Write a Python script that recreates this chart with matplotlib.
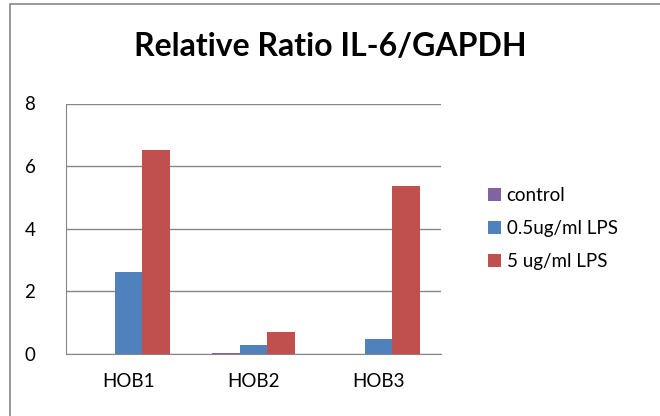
import matplotlib.pyplot as plt
import numpy as np
from matplotlib.patches import Rectangle

categories = ['HOB1', 'HOB2', 'HOB3']
series = ['control', '0.5ug/ml LPS', '5 ug/ml LPS']
control = [0.0, 0.02, 0.0]
lps_05 = [2.62, 0.28, 0.47]
lps_5 = [6.5, 0.7, 5.37]
yticks = [0, 2, 4, 6, 8]

colors = ['#8064A2', '#4F81BD', '#C0504D']
plt.rcParams['font.family'] = ['Lato', 'DejaVu Sans']

fig = plt.figure(figsize=(6.6, 4.16), dpi=100)
ax = fig.add_axes([66/660, 62/416, 375/660, 250.5/416])

x = np.arange(len(categories))
w = 0.22
for i, (vals, name) in enumerate(zip([control, lps_05, lps_5], series)):
    ax.bar(x + (i - 1) * w, vals, w, color=colors[i], label=name, zorder=3)

ax.set_xlim(-0.5, 2.5)
ax.set_ylim(0, 8)
ax.set_yticks(yticks)
ax.set_xticks(x)
ax.set_xticklabels(categories)
ax.tick_params(length=0, labelsize=13.5, colors='black')
ax.tick_params(axis='y', pad=22)
ax.tick_params(axis='x', pad=14)
ax.yaxis.grid(True, color='#868686', lw=1, zorder=0)
for s in ['top', 'right']:
    ax.spines[s].set_visible(False)
for s in ['left', 'bottom']:
    ax.spines[s].set_color('#868686')

fig.text(330/660, 1 - 46/416, 'Relative Ratio IL-6/GAPDH', ha='center', va='center',
         fontsize=23, fontweight='bold')

leg = ax.legend(loc='center left', bbox_to_anchor=(1.08, 0.5), frameon=False,
                fontsize=13.5, handlelength=0.7, handleheight=0.7, handletextpad=0.3,
                labelspacing=0.85)

fig.patches.append(Rectangle((10/660, -0.1), 1.0, (416 - 4)/416 + 0.1,
                             transform=fig.transFigure, fill=False,
                             edgecolor='#888888', lw=1.2))

fig.savefig('out.png', dpi=100)
